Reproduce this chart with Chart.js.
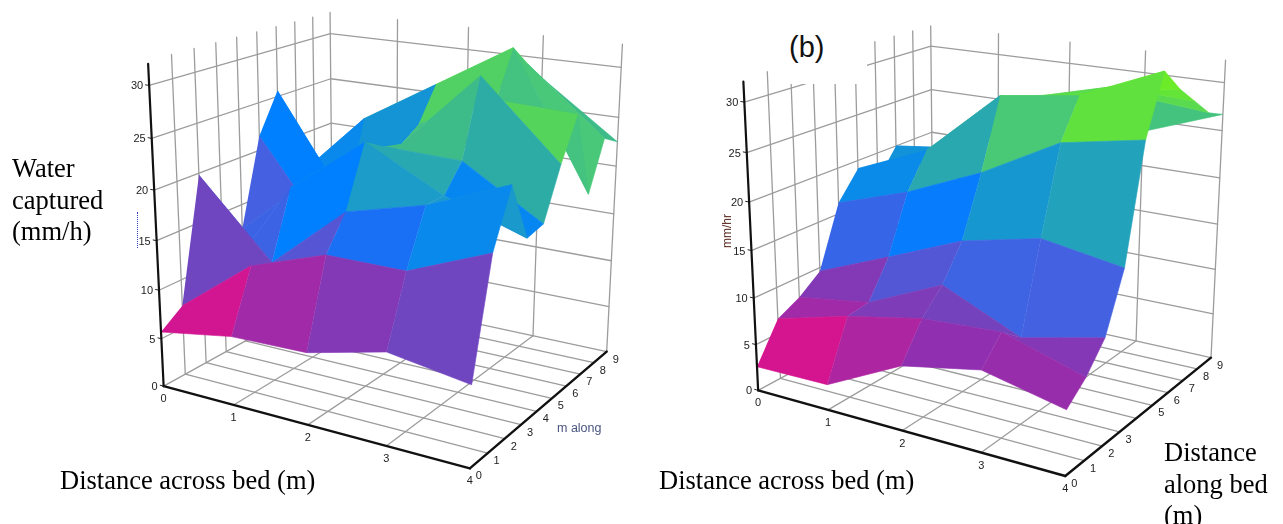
<!DOCTYPE html>
<html>
<head>
<meta charset="utf-8">
<title>Water captured</title>
<script src="https://cdn.jsdelivr.net/npm/chart.js@4"></script>
<style>
  html, body { margin: 0; padding: 0; background: #fff; }
  #page { position: relative; width: 1283px; height: 524px; overflow: hidden; }
  canvas { position: absolute; top: 0; }
  .note { position: absolute; font-family: "Liberation Serif", serif; font-size: 26.5px; line-height: 31.5px; color: #000; white-space: nowrap; }
  .small { position: absolute; font-family: "Liberation Sans", sans-serif; font-size: 12.5px; white-space: nowrap; }
</style>
</head>
<body>
<div id="page">
  <canvas id="chartLeft" width="640" height="524" style="left:0"></canvas>
  <canvas id="chartRight" width="643" height="524" style="left:640px"></canvas>

  <div class="note" style="left:12px;top:153px">Water<br>captured<br>(mm/h)</div>
  <div class="note" style="left:60px;top:465px">Distance across bed (m)</div>
  <div class="note" style="left:659px;top:465px">Distance across bed (m)</div>
  <div class="note" style="left:1164px;top:437px">Distance<br>along bed<br>(m)</div>
  <div class="small" style="left:557px;top:421px;color:#4a5580">m along</div>
  <div class="small" style="left:710px;top:224px;font-size:12px;color:#5a2a20;transform:rotate(-90deg)">mm/hr</div>
  <div style="position:absolute;left:137px;top:212px;height:36px;border-left:1px dotted #3040c0"></div>
  <div style="position:absolute;left:775px;top:0;width:92px;height:84px;background:#fff">
    <div style="position:absolute;left:14px;top:31px;font:29px 'Liberation Sans',sans-serif;color:#111">(b)</div>
  </div>
</div>

<script>
// tick labels
const xTicks = ["0", "1", "2", "3", "4"];
const yTicks = ["0", "1", "2", "3", "4", "5", "6", "7", "8", "9"];
const yTicksRight = ["0", "1", "2", "3", "", "5", "6", "7", "8", "9"];
const zTicks = [0, 5, 10, 15, 20, 25, 30];

// water captured, mm/h, one row per m along the bed, one column per m across
const leftRows = [
    [5.7, 7.0, 7.2, 9.1, 7.9],
    [7.3, 13.0, 15.6, 15.6, 18.8],
    [19.8, 12.3, 18.8, 20.8, 24.0],
    [8.0, 19.0, 24.7, 20.8, 18.2],
    [12.4, 19.0, 23.5, 23.3, 18.6],
    [21.5, 12.0, 23.0, 30.7, 23.4],
    [25.6, 14.7, 24.3, 27.7, 27.4],
    [15.5, 23.0, 27.6, 32.2, 18.8],
    [14.0, 20.0, 26.0, 30.0, 23.6],
    [13.0, 20.0, 25.0, 28.0, 22.5],
];
const rightRows = [
    [2.6, 2.7, 6.7, 8.3, 6.5],
    [6.6, 8.7, 10.3, 10.8, 8.3],
    [7.8, 9.0, 12.6, 9.0, 10.9],
    [9.6, 12.8, 16.1, 17.9, 16.6],
    [16.2, 18.8, 22.2, 26.5, 28.0],
    [19.1, 22.4, 29.3, 30.4, 33.8],
    [17.0, 22.0, 28.3, 30.0, 31.4],
    [20.0, 21.0, 27.8, 29.9, 29.5],
    [17.0, 21.0, 26.5, 28.4, 27.6],
    [16.0, 21.0, 26.0, 23.7, 26.7],
];
// colour levels the picture shows for some cells, "col,row"
const leftLevels = {
    "0,0": 5.3, "1,0": 8, "2,0": 9.8, "3,0": 11,
    "0,1": 11, "1,1": 12.5, "2,1": 16, "3,1": 19,
    "0,2": 14, "1,2": 18, "0,3": 14, "3,3": 18.7, "0,4": 13.5,
    "2,4": 26, "0,5": 18, "3,5": 28.3, "0,6": 19,
    "1,6": 20.3, "3,7": 27,
};

// colour ramp, level -> colour
const rampLevels = [5, 7, 9, 11, 13.5, 16, 18, 20, 22.5, 25, 27, 29.5, 32];
const rampColors = ["#d8148f", "#b024a0", "#9030b0", "#7045c0", "#4560e0", "#1a70f5", "#0080ff",
    "#1292d8", "#25a5b8", "#32b09a", "#48c878", "#5fe040", "#70f020"];

function hexToRgb(h) {
    return [1, 3, 5].map((i) => parseInt(h.substr(i, 2), 16));
}

function rampColor(level) {
    if (level <= rampLevels[0]) return rampColors[0];
    for (let i = 1; i < rampLevels.length; i++) {
        if (level <= rampLevels[i]) {
            const t = (level - rampLevels[i - 1]) / (rampLevels[i] - rampLevels[i - 1]);
            const a = hexToRgb(rampColors[i - 1]);
            const b = hexToRgb(rampColors[i]);
            return "rgb(" + a.map((v, k) => Math.round(v + (b[k] - v) * t)).join(",") + ")";
        }
    }
    return rampColors[rampColors.length - 1];
}

// least squares fit of a 3x4 camera matrix to points where the box frame sits on the page
function fitCamera(frame) {
    const N = Array.from({ length: 11 }, () => new Array(12).fill(0));
    const addRow = (r, b) => {
        for (let i = 0; i < 11; i++) {
            for (let j = 0; j < 11; j++) N[i][j] += r[i] * r[j];
            N[i][11] += r[i] * b;
        }
    };
    frame.forEach(([x, y, z, px, py]) => {
        const u = px / 100, v = py / 100;
        addRow([x, y, z, 1, 0, 0, 0, 0, -u * x, -u * y, -u * z], u);
        addRow([0, 0, 0, 0, x, y, z, 1, -v * x, -v * y, -v * z], v);
    });
    for (let c = 0; c < 11; c++) {
        let best = c;
        for (let r = c + 1; r < 11; r++) if (Math.abs(N[r][c]) > Math.abs(N[best][c])) best = r;
        [N[c], N[best]] = [N[best], N[c]];
        for (let r = 0; r < 11; r++) {
            if (r === c) continue;
            const f = N[r][c] / N[c][c];
            for (let k = c; k < 12; k++) N[r][k] -= f * N[c][k];
        }
    }
    const m = N.map((row, i) => row[11] / row[i]);
    return (x, y, z) => {
        const w = m[8] * x + m[9] * y + m[10] * z + 1;
        return {
            x: 100 * (m[0] * x + m[1] * y + m[2] * z + m[3]) / w,
            y: 100 * (m[4] * x + m[5] * y + m[6] * z + m[7]) / w,
        };
    };
}

function lineSet(points, color, width) {
    return {
        data: points, showLine: true, fill: false, borderColor: color, borderWidth: width,
        pointRadius: 0, tension: 0, borderCapStyle: "round",
    };
}

function buildDatasets(rows, project, levels) {
    const sets = [];
    const nx = xTicks.length - 1, ny = yTicks.length - 1;
    const zTop = 32.3;

    // black axes sit on top
    sets.push(lineSet([project(0, 0, 0), project(nx, 0, 0)], "#111", 2.4));
    sets.push(lineSet([project(nx, 0, 0), project(nx, ny, 0)], "#111", 2.4));
    sets.push(lineSet([project(0, 0, 0), project(0, 0, 32)], "#111", 2.2));
    zTicks.forEach((z) => sets.push(lineSet([project(0, 0, z), project(-0.05, 0, z)], "#222", 1)));

    // surface, nearest cell first because the first dataset is painted last
    for (let r = 0; r < ny; r++) {
        for (let c = nx - 1; c >= 0; c--) {
            const z = [rows[r][c], rows[r][c + 1], rows[r + 1][c + 1], rows[r + 1][c]];
            const mean = (z[0] + z[1] + z[2] + z[3]) / 4;
            const level = levels[c + "," + r] !== undefined ? levels[c + "," + r] : mean;
            const color = rampColor(level);
            sets.push({
                data: [project(c, r, z[0]), project(c + 1, r, z[1]), project(c + 1, r + 1, z[2]), project(c, r + 1, z[3])],
                showLine: true, fill: "shape", backgroundColor: color, borderColor: color,
                borderWidth: 0.6, pointRadius: 0, tension: 0,
            });
        }
    }

    // grey box walls and floor
    const grey = "#9c9c9c";
    const w = 1.3;
    for (let i = 1; i < nx; i++) sets.push(lineSet([project(i, 0, 0), project(i, ny, 0)], grey, w));
    for (let j = 1; j < ny; j++) sets.push(lineSet([project(0, j, 0), project(nx, j, 0)], grey, w));
    sets.push(lineSet([project(0, 0, 0), project(0, ny, 0)], grey, w));
    sets.push(lineSet([project(0, ny, 0), project(nx, ny, 0)], grey, w));
    for (let j = 1; j <= ny; j++) sets.push(lineSet([project(0, j, 0), project(0, j, zTop)], grey, w));
    for (let i = 1; i <= nx; i++) sets.push(lineSet([project(i, ny, 0), project(i, ny, zTop)], grey, w));
    zTicks.slice(1).forEach((z) => {
        sets.push(lineSet([project(0, 0, z), project(0, ny, z)], grey, w));
        sets.push(lineSet([project(0, ny, z), project(nx, ny, z)], grey, w));
    });
    return sets;
}

// tick numbers next to the axes
function tickPlugin(project, yLabels) {
    return {
        id: "tickNumbers",
        afterDraw(chart) {
            const ctx = chart.ctx;
            const sx = chart.scales.x, sy = chart.scales.y;
            const put = (text, p, dx, dy, align) => {
                ctx.textAlign = align;
                ctx.fillText(text, sx.getPixelForValue(p.x) + dx, sy.getPixelForValue(p.y) + dy);
            };
            ctx.save();
            ctx.font = "11px 'Liberation Sans', sans-serif";
            ctx.fillStyle = "#222";
            ctx.textBaseline = "middle";
            zTicks.forEach((z) => put(String(z), project(0, 0, z), -6, 1, "right"));
            xTicks.forEach((t, i) => put(t, project(i, 0, 0), 0, 13, "center"));
            yLabels.forEach((t, j) => put(t, project(xTicks.length - 1, j, 0), 9, 8, "center"));
            ctx.restore();
        },
    };
}

function makePanel(id, xMin, xMax, rows, frame, levels, yLabels) {
    const project = fitCamera(frame);
    return new Chart(document.getElementById(id), {
        type: "scatter",
        data: { datasets: buildDatasets(rows, project, levels) },
        options: {
            responsive: false,
            animation: false,
            events: [],
            layout: { padding: 0 },
            plugins: { legend: { display: false }, tooltip: { enabled: false } },
            scales: {
                x: { type: "linear", min: xMin, max: xMax, display: false },
                y: { type: "linear", min: 0, max: 524, reverse: true, display: false },
            },
        },
        plugins: [tickPlugin(project, yLabels)],
    });
}

makePanel("chartLeft", 0, 640, leftRows, [
    [0, 0, 0, 163, 386], [1, 0, 0, 233, 406], [2, 0, 0, 310, 425], [3, 0, 0, 388, 445], [4, 0, 0, 468, 468],
    [4, 9, 0, 607, 353], [3, 9, 0, 532, 335], [0, 9, 0, 333, 292], [4, 5, 0, 552, 399],
    [0, 0, 15, 156, 240], [0, 0, 30, 149, 86], [0, 9, 30, 331, 34], [1, 9, 30, 397, 42],
    [2, 9, 30, 468, 49], [3, 9, 30, 543, 58], [4, 9, 30, 621, 67],
], leftLevels, yTicks);

makePanel("chartRight", 640, 1283, rightRows, [
    [0, 0, 0, 758, 390], [1, 0, 0, 828, 411], [2, 0, 0, 903, 432], [3, 0, 0, 983, 453], [4, 0, 0, 1063, 475],
    [4, 9, 0, 1212, 358], [3, 9, 0, 1135, 340], [0, 9, 0, 934, 296], [4, 5, 0, 1152, 405],
    [0, 0, 15, 751, 249], [0, 0, 30, 745, 102], [0, 9, 30, 931, 47], [1, 9, 30, 997, 54],
    [2, 9, 30, 1069, 63], [3, 9, 30, 1146, 73], [4, 9, 30, 1225, 83],
], {}, yTicksRight);
</script>
</body>
</html>
